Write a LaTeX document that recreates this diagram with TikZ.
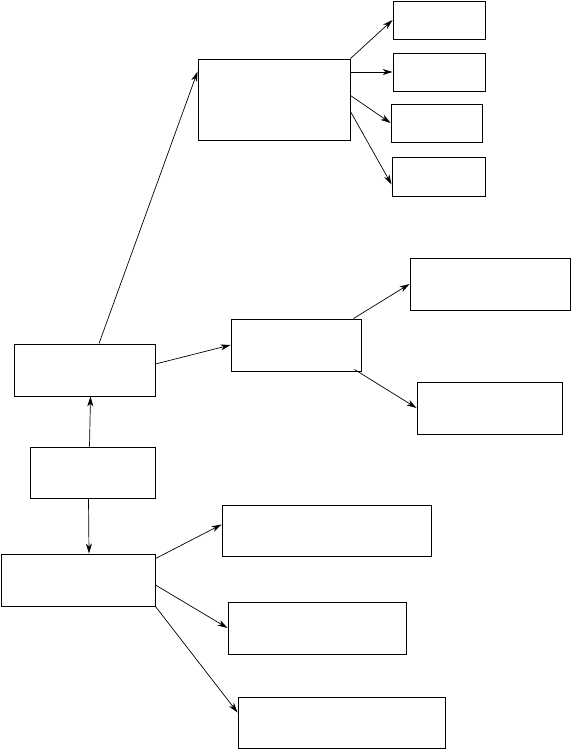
\documentclass[tikz,border=0pt]{standalone}
\usetikzlibrary{arrows.meta}

\begin{document}
\begin{tikzpicture}[
    x=1pt, y=1pt,
    box/.style={rectangle, draw, line width=0.9pt, inner sep=0pt, minimum height=52pt},
    smallbox/.style={box, minimum height=38pt},
    link/.style={line width=0.7pt, -{Stealth[length=10pt, width=6pt, inset=3pt]}}
]
\useasboundingbox (0,0) rectangle (571,-749);

% Upper branch
\node[box, minimum width=152pt, minimum height=81pt] (top) at (274,-99.5) {};
\node[smallbox, minimum width=92pt] (T1) at (439,-20) {};
\node[smallbox, minimum width=92pt] (T2) at (439,-72) {};
\node[smallbox, minimum width=91pt] (T3) at (436.5,-123) {};
\node[smallbox, minimum width=93pt, minimum height=39pt] (T4) at (438.5,-176.5) {};

% Middle branch
\node[box, minimum width=130pt] (mid) at (296,-345) {};
\node[box, minimum width=160pt] (M1) at (490,-284) {};
\node[box, minimum width=145pt] (M2) at (489.5,-408) {};

% Left column
\node[box, minimum width=141pt] (left) at (84.5,-370) {};
\node[box, minimum width=125pt, minimum height=51pt] (base) at (92.5,-472.5) {};
\node[box, minimum width=154pt] (low) at (78,-580) {};

% Lower branch
\node[box, minimum width=209pt, minimum height=51pt] (C1) at (326.5,-530.5) {};
\node[box, minimum width=178pt] (C2) at (317,-628) {};
\node[box, minimum width=207pt, minimum height=51pt] (C3) at (341.5,-722.5) {};

% Edges
\draw[link] ([xshift=14.5pt]left.north) -- ([yshift=-13pt]top.north west);
\draw[link] ([xshift=-3pt]base.north) -- ([xshift=6pt]left.south);
\draw[link] ([xshift=-4pt]base.south) -- ([xshift=11pt]low.north);
\draw[link] ([yshift=6pt]left.east) -- (mid.west);

\draw[link] (top.north east) -- (T1.west);
\draw[link] (top.east |- T2.west) -- (T2.west);
\draw[link] ([yshift=4pt]top.east) -- (T3.west);
\draw[link] ([yshift=-12pt]top.east) -- ([yshift=-8pt]T4.west);

\draw[link] ([xshift=-8pt]mid.north east) -- (M1.west);
\draw[link] ([shift={(-7pt,2pt)}]mid.south east) -- (M2.west);

\draw[link] ([yshift=-5pt]low.north east) -- ([yshift=6pt]C1.west);
\draw[link] ([yshift=-5pt]low.east) -- (C2.west);
\draw[link] (low.south east) -- ([yshift=10pt]C3.west);

\end{tikzpicture}
\end{document}
